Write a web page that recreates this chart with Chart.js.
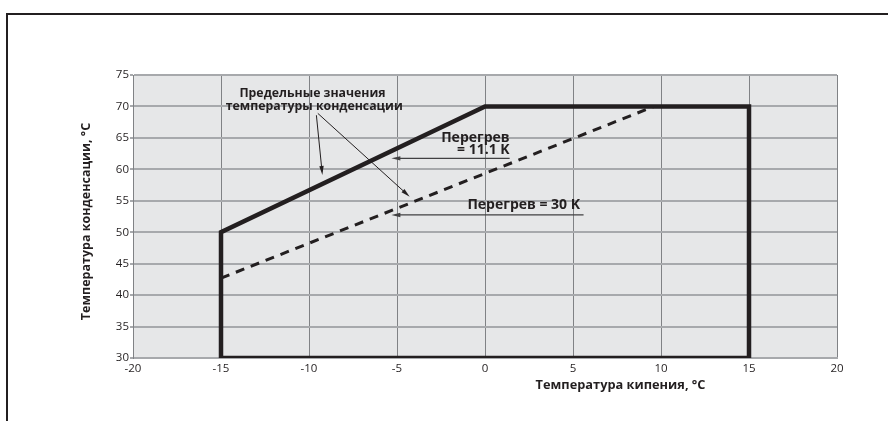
<!DOCTYPE html>
<html>
<head>
<meta charset="utf-8">
<script src="https://cdn.jsdelivr.net/npm/chart.js@4"></script>
<style>
  body { margin: 0; background: #fff; }
  #wrap { position: relative; width: 888px; height: 421px; }
  #frame { position: absolute; left: 6px; top: 13px; right: 0; bottom: 0;
           border-top: 2px solid #231f20; border-left: 2px solid #231f20; pointer-events: none; }
</style>
</head>
<body>
<div id="wrap">
  <canvas id="chart" width="888" height="421"></canvas>
  <div id="frame"></div>
</div>
<script>
// данные
const envelopeX = [-15, -15, 0, 15, 15, -15];
const envelopeY = [30, 50, 70, 70, 30, 30];
const superheat30X = [-15, 9.6];
const superheat30Y = [42.7, 70];
const xTickValues = [-20, -15, -10, -5, 0, 5, 10, 15, 20];
const yTickValues = [30, 35, 40, 45, 50, 55, 60, 65, 70, 75];

const xTitle = "Температура кипения, °C";
const yTitle = "Температура конденсации, °C";
const noteLines = ["Предельные значения", "температуры конденсации"];
const note111Lines = ["Перегрев", "= 11.1 K"];
const note30 = "Перегрев = 30 K";

const ink = "#231f20";
const fontFam = "'Open Sans', 'DejaVu Sans', sans-serif";

function toPoints(xs, ys) {
  return xs.map((x, i) => ({ x: x, y: ys[i] }));
}

function arrow(ctx, x1, y1, x2, y2, color, width) {
  const ang = Math.atan2(y2 - y1, x2 - x1);
  const len = 9, half = 2.2;
  ctx.strokeStyle = color;
  ctx.fillStyle = color;
  ctx.lineWidth = width || 1;
  ctx.beginPath();
  ctx.moveTo(x1, y1);
  ctx.lineTo(x2 - Math.cos(ang) * len * 0.8, y2 - Math.sin(ang) * len * 0.8);
  ctx.stroke();
  ctx.beginPath();
  ctx.moveTo(x2, y2);
  ctx.lineTo(x2 - Math.cos(ang) * len - Math.sin(ang) * half, y2 - Math.sin(ang) * len + Math.cos(ang) * half);
  ctx.lineTo(x2 - Math.cos(ang) * len + Math.sin(ang) * half, y2 - Math.sin(ang) * len - Math.cos(ang) * half);
  ctx.closePath();
  ctx.fill();
}

// фон области графика
const bgPlugin = {
  id: "bg",
  beforeDraw(chart) {
    const a = chart.chartArea;
    const ctx = chart.ctx;
    ctx.save();
    ctx.fillStyle = "#e6e7e8";
    ctx.fillRect(a.left, a.top, a.right - a.left, a.bottom - a.top);
    ctx.restore();
  }
};

// подписи и стрелки
const notesPlugin = {
  id: "notes",
  afterDatasetsDraw(chart) {
    const ctx = chart.ctx;
    const sx = chart.scales.x, sy = chart.scales.y;
    const X = (v) => sx.getPixelForValue(v);
    const Y = (v) => sy.getPixelForValue(v);
    ctx.save();
    ctx.fillStyle = ink;
    ctx.textBaseline = "middle";

    // Предельные значения
    ctx.font = "bold 12.3px " + fontFam;
    ctx.textAlign = "center";
    ctx.fillText(noteLines[0], X(-9.8), Y(72.0));
    ctx.fillText(noteLines[1], X(-9.7), Y(70.0));
    arrow(ctx, X(-9.58), Y(68.6), X(-9.24), Y(59.1), ink);
    arrow(ctx, X(-9.5), Y(68.9), X(-4.28), Y(55.65), ink);

    // Перегрев = 11.1 K
    ctx.font = "bold 14px " + fontFam;
    ctx.textAlign = "right";
    ctx.fillText(note111Lines[0], X(1.4), Y(65.0));
    ctx.fillText(note111Lines[1], X(1.4), Y(63.0));
    arrow(ctx, X(1.4), Y(61.75), X(-5.32), Y(61.75), "#414042", 1.3);

    // Перегрев = 30 K
    ctx.textAlign = "center";
    ctx.fillStyle = ink;
    ctx.fillText(note30, X(2.2), Y(54.3));
    arrow(ctx, X(5.6), Y(52.75), X(-5.32), Y(52.75), "#414042", 1.3);

    // подписи осей
    ctx.fillStyle = ink;
    ctx.textAlign = "center";
    ctx.font = "bold 12.8px " + fontFam;
    ctx.fillText(xTitle, X(7.7), chart.chartArea.bottom + 27);
    ctx.font = "bold 12.5px " + fontFam;
    ctx.save();
    ctx.translate(chart.chartArea.left - 47, (chart.chartArea.top + chart.chartArea.bottom) / 2 + 5);
    ctx.rotate(-Math.PI / 2);
    ctx.fillText(yTitle, 0, 0);
    ctx.restore();
    ctx.restore();
  }
};

new Chart(document.getElementById("chart"), {
  type: "scatter",
  data: {
    datasets: [
      {
        data: toPoints(envelopeX, envelopeY),
        showLine: true,
        borderColor: ink,
        borderWidth: 4.5,
        pointRadius: 0,
        borderJoinStyle: "miter",
        borderCapStyle: "square"
      },
      {
        data: toPoints(superheat30X, superheat30Y),
        showLine: true,
        borderColor: ink,
        borderWidth: 3,
        borderDash: [9, 7],
        pointRadius: 0
      }
    ]
  },
  options: {
    responsive: false,
    animation: false,
    events: [],
    layout: { padding: { top: 75, right: 51, left: 0, bottom: 0 } },
    plugins: { legend: { display: false }, tooltip: { enabled: false } },
    scales: {
      x: {
        type: "linear",
        min: -20, max: 20,
        afterFit(s) { s.height = 63; },
        afterBuildTicks(s) { s.ticks = xTickValues.map(v => ({ value: v })); },
        grid: { color: "#808285", lineWidth: 1, drawTicks: false },
        border: { color: "#a7a9ac", width: 2 },
        ticks: { color: ink, padding: 4, font: { family: fontFam, size: 11.5 }, maxRotation: 0 }
      },
      y: {
        type: "linear",
        min: 30, max: 75,
        afterFit(s) { s.width = 133; },
        afterBuildTicks(s) { s.ticks = yTickValues.map(v => ({ value: v })); },
        grid: { color: "#a7a9ac", lineWidth: 2, tickLength: 3 },
        border: { color: "#808285", width: 1 },
        ticks: { color: ink, padding: 1, font: { family: fontFam, size: 11.5 } }
      }
    }
  },
  plugins: [bgPlugin, notesPlugin]
});
</script>
</body>
</html>
